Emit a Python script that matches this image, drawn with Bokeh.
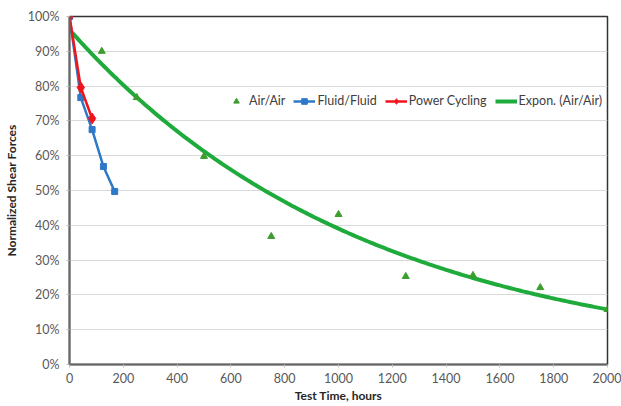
import numpy as np
from bokeh.plotting import figure
from bokeh.models import Legend, LegendItem, NumeralTickFormatter, FixedTicker, Range1d
from bokeh.embed import file_html
from bokeh.resources import INLINE

# Data
air_hours = [0, 120, 250, 500, 750, 1000, 1250, 1500, 1750, 2000]
air_force = [1.00, 0.90, 0.767, 0.598, 0.368, 0.431, 0.253, 0.256, 0.221, 0.158]

fluid_hours = [0, 42, 84, 126, 168]
fluid_force = [1.00, 0.767, 0.675, 0.569, 0.497]

power_hours = [0, 42, 84]
power_force = [1.00, 0.796, 0.707]

# Exponential trendline y = a * exp(b * x), parameters
trend_a = 0.962
trend_b = -0.000902
trend_hours = np.linspace(0, 2000, 201)
trend_force = trend_a * np.exp(trend_b * trend_hours)

x_ticks = [0, 200, 400, 600, 800, 1000, 1200, 1400, 1600, 1800, 2000]
y_ticks = [0, 0.1, 0.2, 0.3, 0.4, 0.5, 0.6, 0.7, 0.8, 0.9, 1.0]

FONT = "Lato"
GREEN_LINE = "#1faa3c"
GREEN_MARK = "#3c9e2e"
BLUE = "#2e78c8"
RED = "#f0141c"

p = figure(width=621, height=406, output_backend="svg", toolbar_location=None,
           x_range=Range1d(0, 2000), y_range=Range1d(0, 1.0),
           min_border_left=68, min_border_right=14, min_border_top=16, min_border_bottom=42)
p.background_fill_color = "white"
p.border_fill_color = "white"
p.outline_line_color = "#333333"
p.outline_line_width = 1.5

p.xgrid.grid_line_color = None
p.ygrid.grid_line_color = "#d9d9d9"
p.ygrid.grid_line_width = 1

p.xaxis.ticker = FixedTicker(ticks=x_ticks)
p.yaxis.ticker = FixedTicker(ticks=y_ticks)
p.yaxis.formatter = NumeralTickFormatter(format="0%")

for ax in (p.xaxis, p.yaxis):
    ax.axis_line_color = "#666666"
    ax.axis_line_width = 2
    ax.major_tick_line_color = "#bfbfbf"
    ax.major_tick_in = 0
    ax.major_tick_out = 3
    ax.minor_tick_line_color = None
    ax.major_label_text_font = FONT
    ax.major_label_text_font_size = "12.5px"
    ax.major_label_text_color = "#595959"
    ax.axis_label_text_font = FONT
    ax.axis_label_text_font_size = "12px"
    ax.axis_label_text_font_style = "bold"
    ax.axis_label_text_color = "#262626"

p.xaxis.axis_label = "Test Time, hours"
p.yaxis.axis_label = "Normalized Shear Forces"
p.xaxis.major_label_standoff = 5
p.xaxis.axis_label_standoff = 2
p.yaxis.major_label_standoff = 7
p.yaxis.axis_label_standoff = 6

trend = p.line(trend_hours, trend_force, line_color=GREEN_LINE, line_width=4)
air = p.scatter(air_hours, air_force, marker="triangle", size=7,
                fill_color=GREEN_MARK, line_color=GREEN_MARK)

fl_line = p.line(fluid_hours, fluid_force, line_color=BLUE, line_width=2.5)
fl_mark = p.scatter(fluid_hours, fluid_force, marker="square", size=6,
                    fill_color=BLUE, line_color=BLUE)

pw_line = p.line(power_hours, power_force, line_color=RED, line_width=2.5)
pw_mark = p.scatter(power_hours, power_force, marker="diamond", size=11,
                    fill_color=RED, line_color=RED)

legend = Legend(items=[
    LegendItem(label="Air/Air", renderers=[air]),
    LegendItem(label="Fluid/Fluid", renderers=[fl_line, fl_mark]),
    LegendItem(label="Power Cycling", renderers=[pw_line, pw_mark]),
    LegendItem(label="Expon. (Air/Air)", renderers=[trend]),
], orientation="horizontal", location=(156, 256))
legend.background_fill_alpha = 0
legend.border_line_color = None
legend.label_text_font = FONT
legend.label_text_font_size = "12.5px"
legend.label_text_color = "#404040"
legend.glyph_width = 22
legend.glyph_height = 14
legend.label_standoff = 2
legend.spacing = 8
legend.padding = 2
legend.margin = 0
p.add_layout(legend, "center")

open("out.html", "w").write(file_html(p, INLINE))
